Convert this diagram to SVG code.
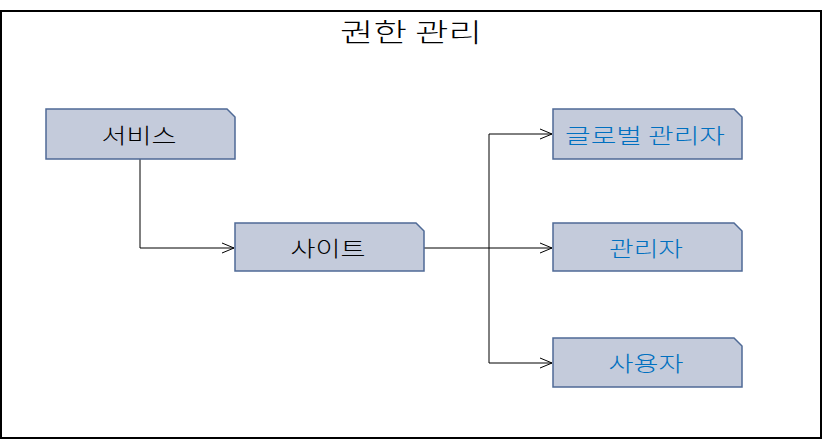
<svg xmlns="http://www.w3.org/2000/svg" width="822" height="440" viewBox="0 0 822 440">
<style>
.node{fill:#C4CBDB;stroke:#4F6A96;stroke-width:1.5}
.t{font-family:"Malgun Gothic","Noto Sans CJK KR",sans-serif;font-size:21px;font-weight:300;text-anchor:middle}
.blk{fill:#000}
.blu{fill:#0070C0}
.c{fill:none;stroke:#000;stroke-width:1}
</style>
<defs>
<marker id="ah" markerWidth="14" markerHeight="12" refX="13" refY="6" orient="auto" markerUnits="userSpaceOnUse">
<path d="M1,1 L13,6 L1,11" fill="none" stroke="#000" stroke-width="1"/>
</marker>
</defs>
<rect x="1" y="11" width="820" height="427" fill="#fff" stroke="#000" stroke-width="2"/>
<text x="411" y="42" class="t blk" style="font-size:26px" textLength="142" lengthAdjust="spacingAndGlyphs">권한 관리</text>
<g id="connectors">
<path class="c" d="M140,159 V248 H234" marker-end="url(#ah)"/>
<path class="c" d="M424,248 H552" marker-end="url(#ah)"/>
<path class="c" d="M489,248 V134 H552" marker-end="url(#ah)"/>
<path class="c" d="M489,248 V363 H552" marker-end="url(#ah)"/>
</g>
<g id="n-service">
<path class="node" d="M46,109 H227 L235,117 V159 H46 Z"/>
<text x="139" y="143" class="t blk" textLength="75" lengthAdjust="spacingAndGlyphs">서비스</text>
</g>
<g id="n-site">
<path class="node" d="M235,223 H416 L424,231 V271 H235 Z"/>
<text x="328" y="256" class="t blk" textLength="75" lengthAdjust="spacingAndGlyphs">사이트</text>
</g>
<g id="n-global">
<path class="node" d="M553,109 H734 L742,117 V159 H553 Z"/>
<text x="645" y="143" class="t blu" textLength="160" lengthAdjust="spacingAndGlyphs">글로벌 관리자</text>
</g>
<g id="n-admin">
<path class="node" d="M553,223 H734 L742,231 V271 H553 Z"/>
<text x="646" y="256" class="t blu" textLength="74" lengthAdjust="spacingAndGlyphs">관리자</text>
</g>
<g id="n-user">
<path class="node" d="M553,338 H734 L742,346 V387 H553 Z"/>
<text x="646" y="371" class="t blu" textLength="75" lengthAdjust="spacingAndGlyphs">사용자</text>
</g>
</svg>
